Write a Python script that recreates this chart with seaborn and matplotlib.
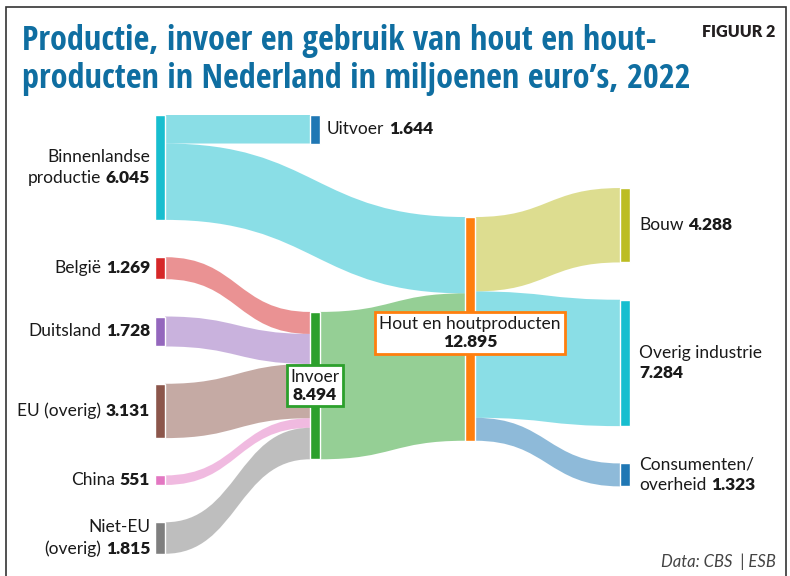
import matplotlib
matplotlib.use("Agg")
import matplotlib.pyplot as plt
import seaborn as sns
from matplotlib.path import Path
from matplotlib.patches import PathPatch, Rectangle
from matplotlib.offsetbox import TextArea, HPacker, VPacker, AnnotationBbox

# stromen in miljoenen euro's, 2022
bron = ["Binnenlandse productie", "Binnenlandse productie",
        "België", "Duitsland", "EU (overig)", "China", "Niet-EU (overig)",
        "Invoer",
        "Hout en houtproducten", "Hout en houtproducten", "Hout en houtproducten"]
doel = ["Uitvoer", "Hout en houtproducten",
        "Invoer", "Invoer", "Invoer", "Invoer", "Invoer",
        "Hout en houtproducten",
        "Bouw", "Overig industrie", "Consumenten/overheid"]
waarde = [1644, 4401, 1269, 1728, 3131, 551, 1815, 8494, 4288, 7284, 1323]

kolom0 = ["Binnenlandse productie", "België", "Duitsland", "EU (overig)", "China", "Niet-EU (overig)"]
kolom1 = ["Uitvoer", "Invoer"]
kolom2 = ["Hout en houtproducten"]
kolom3 = ["Bouw", "Overig industrie", "Consumenten/overheid"]

regels = {
    "Binnenlandse productie": ["Binnenlandse", "productie"],
    "Niet-EU (overig)": ["Niet-EU", "(overig)"],
    "Overig industrie": ["Overig industrie", ""],
    "Consumenten/overheid": ["Consumenten/", "overheid"],
    "Hout en houtproducten": ["Hout en houtproducten", ""],
    "Invoer": ["Invoer", ""],
}

titel1 = "Productie, invoer en gebruik van hout en hout-"
titel2 = "producten in Nederland in miljoenen euro’s, 2022"

# ---- stijl / layout
sns.set_theme(style="white")
plt.rcParams['font.family'] = ['Lato', 'DejaVu Sans']
pal = sns.color_palette("tab10")
kleur = {"Binnenlandse productie": pal[9], "Uitvoer": pal[0], "België": pal[3],
         "Duitsland": pal[4], "EU (overig)": pal[5], "China": pal[6],
         "Niet-EU (overig)": pal[7], "Invoer": pal[2], "Hout en houtproducten": pal[1],
         "Bouw": pal[8], "Overig industrie": pal[9], "Consumenten/overheid": pal[0]}

W, H = 790, 576
PX = 0.01735        # pixels per miljoen
TOP = 115           # bovenkant eerste kolom (px)
GAP = 2150          # ruimte tussen knopen (miljoen)
NW = 10 / 155       # knoopbreedte in kolomeenheden
start = {"Binnenlandse productie": 0, "Uitvoer": 0, "Invoer": 11350,
         "Hout en houtproducten": 5880, "Bouw": 4210}


def fmt(v):
    return f"{v:,}".replace(",", ".")


kolom = {}
for i, k in enumerate([kolom0, kolom1, kolom2, kolom3]):
    for n in k:
        kolom[n] = i

inn, uit = {}, {}
for b, d, w in zip(bron, doel, waarde):
    uit[b] = uit.get(b, 0) + w
    inn[d] = inn.get(d, 0) + w
val = {n: max(inn.get(n, 0), uit.get(n, 0)) for n in kolom}

top = {}
for k in [kolom0, kolom1, kolom2, kolom3]:
    cur = 0
    for n in k:
        if n in start:
            cur = start[n]
        top[n] = cur
        cur += val[n] + GAP

fig = plt.figure(figsize=(W / 100, H / 100), dpi=100)
ax = fig.add_axes([0, 0, 1, 1])
ax.set_xlim(-1, (W - 155) / 155)
ax.set_ylim((H - TOP) / PX, -TOP / PX)
ax.axis("off")

# ---- stromen
s_off = dict(top)
t_off = dict(top)
for b, d, w in zip(bron, doel, waarde):
    s = s_off[b]; s_off[b] += w
    t = t_off[d]; t_off[d] += w
    x0 = kolom[b] + NW
    x1 = kolom[d]
    xm = (x0 + x1) / 2
    verts = [(x0, s), (xm, s), (xm, t), (x1, t),
             (x1, t + w), (xm, t + w), (xm, s + w), (x0, s + w), (x0, s)]
    codes = [Path.MOVETO, Path.CURVE4, Path.CURVE4, Path.CURVE4,
             Path.LINETO, Path.CURVE4, Path.CURVE4, Path.CURVE4, Path.CLOSEPOLY]
    c = kleur[d] if b == "Hout en houtproducten" else kleur[b]
    ax.add_patch(PathPatch(Path(verts, codes), facecolor=c, edgecolor="none",
                           alpha=0.5, zorder=1))

# ---- knopen
namen = list(kolom)
ax.bar([kolom[n] for n in namen], [val[n] for n in namen],
       bottom=[top[n] for n in namen], width=NW, align="edge",
       color=[kleur[n] for n in namen], zorder=2)

# ---- labels
normaal = dict(fontfamily=['Lato', 'DejaVu Sans'], fontsize=12.5, color="#1a1a1a")
vet = dict(normaal, fontweight="heavy")


def label(naam, align, sep):
    rr = regels.get(naam, [naam])
    kids = []
    for i, r in enumerate(rr):
        delen = []
        if r:
            delen.append(TextArea(r, textprops=normaal))
        if i == len(rr) - 1:
            delen.append(TextArea(fmt(val[naam]), textprops=vet))
        kids.append(HPacker(children=delen, align="baseline", pad=0, sep=3.5))
    return VPacker(children=kids, align=align, pad=0, sep=sep)


for n in namen:
    midden = top[n] + val[n] / 2
    if kolom[n] == 0:
        ab = AnnotationBbox(label(n, "right", 3.5), (kolom[n], midden), xybox=(-3.5, 0),
                            boxcoords="offset points", box_alignment=(1, 0.5),
                            frameon=False, pad=0)
    elif n in ("Invoer", "Hout en houtproducten"):
        dy = 230 if n == "Hout en houtproducten" else 0
        ab = AnnotationBbox(label(n, "center", 1.5), (kolom[n] + NW / 2, midden + dy),
                            box_alignment=(0.5, 0.5), frameon=True, pad=0.22,
                            fontsize=12.5,
                            bboxprops=dict(edgecolor=kleur[n], facecolor="white",
                                           linewidth=2))
    else:
        gap = 6.5 if kolom[n] == 3 else 5
        ab = AnnotationBbox(label(n, "left", 3.5), (kolom[n] + NW, midden), xybox=(gap, 0),
                            boxcoords="offset points", box_alignment=(0, 0.5),
                            frameon=False, pad=0)
    ab.set_zorder(5)
    ax.add_artist(ab)

# ---- titel en overige teksten
titel_kleur = "#0f6ea1"
titelfont = dict(family=['Open Sans Condensed', 'Roboto Condensed', 'Liberation Sans Narrow',
                         'DejaVu Sans'],
                 fontstretch="condensed", fontweight="bold", color=titel_kleur,
                 ha="left", va="baseline")
t1 = fig.text(22 / W, 1 - 50 / H, titel1, fontsize=24, **titelfont)
t2 = fig.text(22 / W, 1 - 88 / H, titel2, fontsize=24, **titelfont)
r = fig.canvas.get_renderer()
schaal = 635 / t1.get_window_extent(r).width
t1.set_fontsize(24 * schaal)
t2.set_fontsize(24 * schaal)

fig.text(775 / W, 1 - 32 / H, "FIGUUR 2", ha="right", va="center", fontsize=11.5,
         fontweight="heavy", color="#231f20")
fig.text(776 / W, 1 - 562 / H, "Data: CBS  | ESB", ha="right", va="center", fontsize=12,
         fontstyle="italic", color="#444444")

fig.patches.append(Rectangle((6 / W, -0.1), 780 / W, (H - 7) / H + 0.1,
                             transform=fig.transFigure, fill=False,
                             edgecolor="#333333", linewidth=1.2))

fig.savefig("out.png", dpi=100)
